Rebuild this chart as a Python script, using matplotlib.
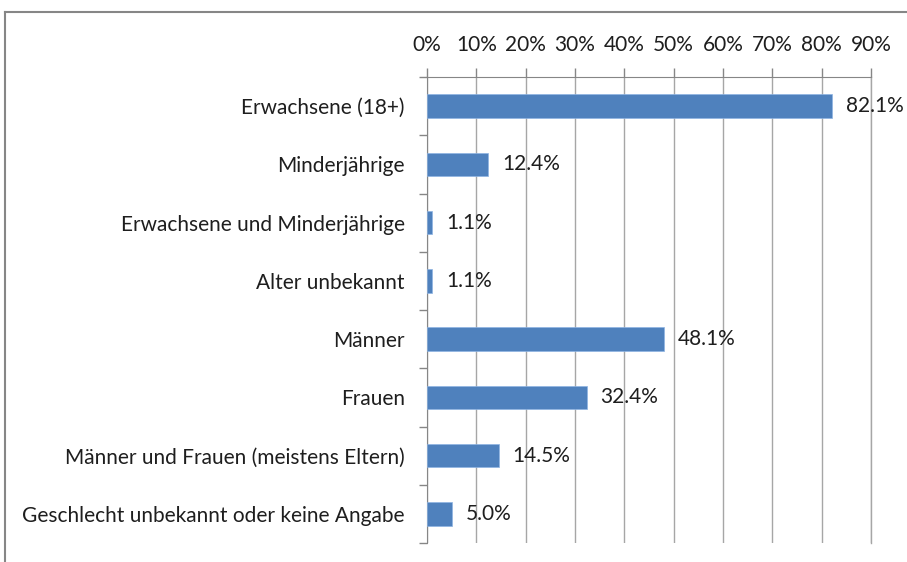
import matplotlib
matplotlib.use("Agg")
import matplotlib.pyplot as plt
from matplotlib.ticker import FuncFormatter, MultipleLocator
from matplotlib.lines import Line2D

categories = [
    "Erwachsene (18+)",
    "Minderjährige",
    "Erwachsene und Minderjährige",
    "Alter unbekannt",
    "Männer",
    "Frauen",
    "Männer und Frauen (meistens Eltern)",
    "Geschlecht unbekannt oder keine Angabe",
]
values = [82.1, 12.4, 1.1, 1.1, 48.1, 32.4, 14.5, 5.0]
value_labels = ["82.1%", "12.4%", "1.1%", "1.1%", "48.1%", "32.4%", "14.5%", "5.0%"]

plt.rcParams['font.family'] = ['Lato', 'DejaVu Sans']

W, H = 907, 562
fig = plt.figure(figsize=(W / 100, H / 100), dpi=100)
fig.patch.set_facecolor("white")

# outer frame (top and left lines)
fig.add_artist(Line2D([5 / W, 5 / W], [0, 1 - 12 / H], transform=fig.transFigure,
                      color="#868686", lw=1.5))
fig.add_artist(Line2D([5 / W, 1], [1 - 12 / H, 1 - 12 / H], transform=fig.transFigure,
                      color="#868686", lw=1.5))

left, right, top, bottom = 427, 871, 77, 543
ax = fig.add_axes([left / W, 1 - bottom / H, (right - left) / W, (bottom - top) / H])

FS = 15
TXT = "#1e1e1e"
n = len(categories)
ypos = list(range(n))
ax.barh(ypos, values, height=0.4, color="#4F81BD", edgecolor="#8EB4E3", linewidth=0.5, zorder=3)
ax.set_ylim(n - 0.5, -0.5)
ax.set_xlim(0, 90)

ax.xaxis.set_major_locator(MultipleLocator(10))
ax.xaxis.set_major_formatter(FuncFormatter(lambda v, p: f"{int(round(v))}%"))
ax.xaxis.tick_top()
ax.tick_params(axis="x", direction="out", length=6.5, width=1, color="#868686",
               labelsize=FS, labelcolor=TXT, pad=9)
ax.grid(axis="x", color="#A6A6A6", lw=1, zorder=0)
ax.axvline(90, color="#A6A6A6", lw=1, zorder=0, clip_on=False)

ax.set_yticks(ypos)
ax.set_yticklabels(categories, fontsize=FS, color=TXT)
ax.set_yticks([i - 0.5 for i in range(n + 1)], minor=True)
ax.tick_params(axis="y", which="major", length=0, pad=16)
ax.tick_params(axis="y", which="minor", direction="out", length=6, width=1, color="#868686")

for s in ["right", "bottom"]:
    ax.spines[s].set_visible(False)
ax.spines["left"].set_color("#868686")
ax.spines["top"].set_color("#868686")

for y, v, lab in zip(ypos, values, value_labels):
    ax.text(v + 2.8, y, lab, va="center", ha="left", fontsize=FS, color=TXT, zorder=4)

fig.savefig("out.png", dpi=100)
